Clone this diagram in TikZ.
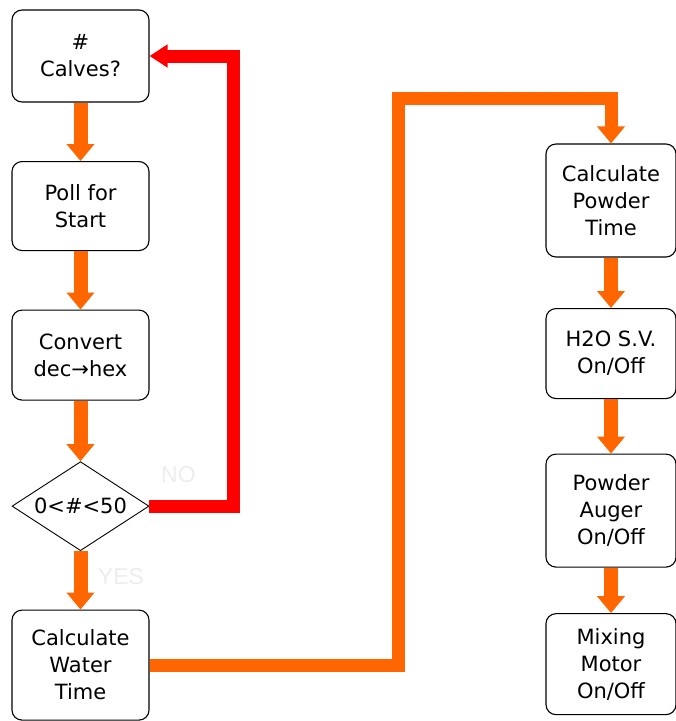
\documentclass[tikz,border=0pt]{standalone}
\usepackage{fontspec}
\setmainfont{DejaVu Sans}
\newfontfamily\labelfont{Liberation Sans}
\usetikzlibrary{shapes.geometric,arrows.meta}
\definecolor{flowor}{HTML}{FF6600}
\definecolor{loopred}{HTML}{FF0000}
\tikzstyle{box}=[draw, rounded corners=10pt, line width=1.1pt, align=center,
    font=\fontsize{21}{27}\selectfont, minimum width=137pt, inner sep=0pt]
\tikzstyle{box2} = [box, minimum width=130pt]
\tikzstyle{test} = [draw, diamond, aspect=1.5, line width=0.9pt, inner sep=0pt,
    font=\fontsize{21}{27}\selectfont, minimum width=137pt, minimum height=89pt]
\tikzstyle{flow} = [draw, color=flowor, line width=14pt,
    -{Triangle[width=27pt,length=17pt]}]
\tikzstyle{loop} = [draw, color=loopred, line width=13pt,
    -{Triangle[width=22pt,length=18pt]}]
\tikzstyle{answer} = [text=black!7, font=\labelfont\fontsize{23}{23}\selectfont]

\begin{document}
\begin{tikzpicture}
    \useasboundingbox (0,0) rectangle (676pt,-721pt);

    \node (calves)[box, minimum height=92pt] at (80.5pt,-56pt) {\#\\Calves?};
    \path (calves.south)+(0,-103.5pt) node (poll)[box, minimum height=89pt] {Poll for\\Start};
    \path (poll.south)+(0,-104pt) node (convert)[box, minimum height=90pt] {Convert\\dec→hex};
    \path (convert.south)+(0,-105.5pt) node (range)[test] {0<\#<50};
    \path (range.south)+(0,-114pt) node (water)[box, minimum height=110pt] {Calculate\\Water\\Time};

    \path (calves.center)+(530.5pt,-144.5pt) node (powder)[box2, minimum height=113pt] {Calculate\\Powder\\Time};
    \path (powder.south)+(0,-96pt) node (valve)[box2, minimum height=90pt] {H2O S.V.\\On/Off};
    \path (valve.south)+(0,-111.5pt) node (auger)[box2, minimum height=113pt] {Powder\\Auger\\On/Off};
    \path (auger.south)+(0,-96.5pt) node (motor)[box2, minimum height=101pt] {Mixing\\Motor\\On/Off};

    \path (range.east)+(29pt,31.5pt) node (no) [answer] {NO};
    \path (range.south)+(40.5pt,-25pt) node (yes) [answer] {YES};

	%%% arrows
    \path (range.east)+(84pt,0) coordinate (back);
    \path (water.east)+(249pt,567pt) coordinate (over);

    \path [flow] (calves.south) -- (poll.north) {};
    \path [flow] (poll.south) -- (convert.north) {};
    \path [flow] (convert.south) -- (range.north) {};
    \path [flow] (range.south) -- (water.north) {};
    \path [loop] (range.east) -- (back) |- (calves.east) {};
    \path [flow, line width=13pt] (water.east) -| (over) -| (powder.north) {};
    \path [flow] (powder.south) -- (valve.north) {};
    \path [flow] (valve.south) -- (auger.north) {};
    \path [flow] (auger.south) -- (motor.north) {};

\end{tikzpicture}
\end{document}
